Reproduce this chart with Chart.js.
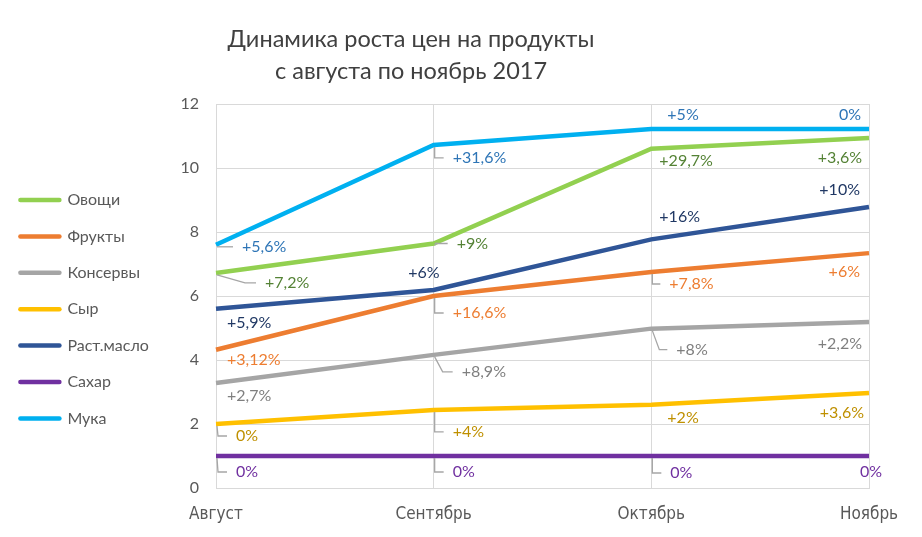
<!DOCTYPE html>
<html><head><meta charset="utf-8">
<script src="https://cdn.jsdelivr.net/npm/chart.js@4.4.1/dist/chart.umd.min.js"></script>
<style>html,body{margin:0;padding:0;background:#fff}#wrap{width:922px;height:537px;position:relative}</style>
</head><body><div id="wrap"><canvas id="c"></canvas></div>
<script>
// ---- data ----
const categories = ['Август', 'Сентябрь', 'Октябрь', 'Ноябрь'];
const yMin = 0, yMax = 12, yStep = 2;
const titleLines = ['Динамика роста цен на продукты', 'с августа по ноябрь 2017'];
const seriesNames = ['Овощи', 'Фрукты', 'Консервы', 'Сыр', 'Раст.масло', 'Сахар', 'Мука'];

const ovoshchi  = [6.72, 7.64, 10.6, 10.94];
const frukty    = [4.32, 6.0, 6.75, 7.34];
const konservy  = [3.28, 4.16, 4.98, 5.19];
const syr       = [2.0, 2.44, 2.6, 2.97];
const rastMaslo = [5.6, 6.19, 7.77, 8.78];
const sakhar    = [1, 1, 1, 1];
const muka      = [7.6, 10.72, 11.22, 11.22];

const lblOvoshchi  = ['+7,2%', '+9%', '+29,7%', '+3,6%'];
const lblFrukty    = ['+3,12%', '+16,6%', '+7,8%', '+6%'];
const lblKonservy  = ['+2,7%', '+8,9%', '+8%', '+2,2%'];
const lblSyr       = ['0%', '+4%', '+2%', '+3,6%'];
const lblRastMaslo = ['+5,9%', '+6%', '+16%', '+10%'];
const lblSakhar    = ['0%', '0%', '0%', '0%'];
const lblMuka      = ['+5,6%', '+31,6%', '+5%', '0%'];

// ---- styles ----
const lineColors  = ['#92D050', '#ED7D31', '#A5A5A5', '#FFC000', '#2F5597', '#7030A0', '#00B0F0'];
const labelColors = ['#548235', '#ED7D31', '#7F7F7F', '#BF9000', '#203864', '#7030A0', '#2E75B6'];
// label placement relative to point: [dx, dy, leaderCornerX|null, align]
const labelPlacement = [
  [[49, 10, 29, 'l'], [23, 0, 2, 'l'], [8, 12, null, 'l'], [-7, 20, null, 'r']],
  [[11, 10, null, 'l'], [19, 17, 1, 'l'], [18, 12, 1, 'l'], [-9, 19, null, 'r']],
  [[11, 13, null, 'l'], [28, 17, 9, 'l'], [25, 21, 8, 'l'], [-7, 22, null, 'r']],
  [[20, 12, 2, 'l'], [19, 22, 1, 'l'], [16, 13, null, 'l'], [-5, 20, null, 'r']],
  [[11, 14, null, 'l'], [6, -17, null, 'r'], [8, -23, null, 'l'], [-9, -17, null, 'r']],
  [[20, 16, 2, 'l'], [19, 16, 1, 'l'], [19, 17, 1, 'l'], [13, 16, null, 'r']],
  [[26, 2, 2, 'l'], [19, 13, 1, 'l'], [16, -14, null, 'l'], [-8, -14, null, 'r']]
];

const seriesValues = [ovoshchi, frukty, konservy, syr, rastMaslo, sakhar, muka];
const seriesLabels = [lblOvoshchi, lblFrukty, lblKonservy, lblSyr, lblRastMaslo, lblSakhar, lblMuka];

const FONT = 'Lato, "Open Sans", sans-serif';
const GRID = '#D9D9D9';
const TXT = '#595959';

const titlePlugin = {
  id: 'customTitle',
  afterLayout(chart) {
    // keep legend block vertically where the reference has it
    if (chart.legend) chart.legend.bottom = chart.legend.bottom - 22.6;
  },
  afterDraw(chart) {
    const ctx = chart.ctx;
    ctx.save();
    ctx.fillStyle = '#404040';
    ctx.font = '23.5px ' + FONT;
    ctx.textAlign = 'center';
    ctx.textBaseline = 'middle';
    ctx.fillText(titleLines[0], 411, 39);
    ctx.fillText(titleLines[1], 411, 71);
    ctx.restore();
  }
};

const labelPlugin = {
  id: 'dataLabels',
  afterDatasetsDraw(chart) {
    const ctx = chart.ctx;
    ctx.save();
    chart.data.datasets.forEach((ds, i) => {
      const meta = chart.getDatasetMeta(i);
      meta.data.forEach((pt, j) => {
        const [dx, dy, cx, al] = labelPlacement[i][j];
        const x = pt.x, y = pt.y;
        if (cx !== null) {
          ctx.strokeStyle = '#A6A6A6';
          ctx.lineWidth = 1.3;
          ctx.beginPath();
          ctx.moveTo(x + 1, y + 2);
          ctx.lineTo(x + cx, y + dy);
          ctx.lineTo(x + dx - 9, y + dy);
          ctx.stroke();
        }
        ctx.fillStyle = labelColors[i];
        ctx.font = '16px ' + FONT;
        ctx.textAlign = al === 'r' ? 'right' : 'left';
        ctx.textBaseline = 'middle';
        ctx.fillText(seriesLabels[i][j], x + dx, y + dy);
      });
    });
    ctx.restore();
  }
};

new Chart(document.getElementById('c'), {
  type: 'line',
  data: {
    labels: categories,
    datasets: seriesNames.map((name, i) => ({
      label: name,
      data: seriesValues[i],
      borderColor: lineColors[i],
      backgroundColor: lineColors[i],
      borderWidth: 4.5,
      pointRadius: 0,
      tension: 0,
      fill: false
    }))
  },
  options: {
    responsive: true,
    maintainAspectRatio: false,
    animation: false,
    layout: { padding: { top: 104, right: 53, bottom: 0, left: 0 } },
    plugins: {
      title: { display: false },
      tooltip: { enabled: false },
      legend: {
        display: true,
        position: 'left',
        align: 'center',
        labels: {
          usePointStyle: true,
          pointStyle: 'line',
          pointStyleWidth: 39,
          padding: 20.4,
          color: TXT,
          font: { family: FONT, size: 16 },
          generateLabels: (chart) => Chart.defaults.plugins.legend.labels.generateLabels(chart).map(l => ({ ...l, lineCap: 'round', pointStyle: 'line' }))
        }
      }
    },
    scales: {
      x: {
        offset: false,
        grid: { color: GRID, lineWidth: 1, drawTicks: false },
        border: { color: GRID },
        ticks: { color: TXT, padding: 16, maxRotation: 0, font: { family: '"Liberation Sans Narrow", "DejaVu Sans Condensed", sans-serif', size: 17 } },
        afterFit(s) { s.height = 537 - 488; }
      },
      y: {
        min: yMin, max: yMax,
        ticks: { stepSize: yStep, color: TXT, padding: 17, font: { family: FONT, size: 16 } },
        grid: { color: GRID, lineWidth: 1, drawTicks: false },
        border: { color: GRID },
        afterFit(s) { s.width = 216 - s.chart.legend.width; }
      }
    }
  },
  plugins: [labelPlugin, titlePlugin]
});
</script>
</body></html>
